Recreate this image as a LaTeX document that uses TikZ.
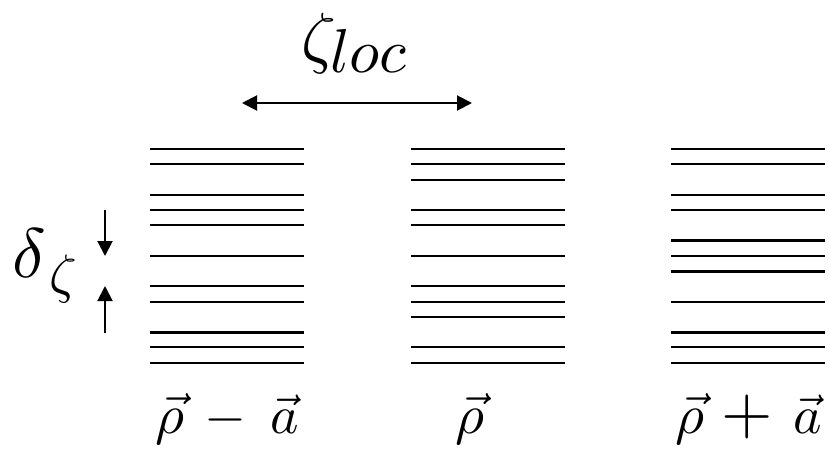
\documentclass[tikz,border=0pt]{standalone}
\usetikzlibrary{arrows.meta}
\tikzset{
  level/.style={line width=2pt},
  thicklevel/.style={line width=3pt},
  dimarrow/.style={line width=2pt,-{Triangle[length=15pt,width=15pt]}},
  lbl/.style={inner sep=0pt,anchor=base},
}
\begin{document}
\begin{tikzpicture}[x=1pt,y=-1pt]
\useasboundingbox (0,0) rectangle (829,452);
% level grid: y = 149 + k*15.25
\foreach \k in {0,1,3,4,5,7,9,10,13,14} \draw[level] (150,149+\k*15.25) -- (304,149+\k*15.25);
\foreach \k in {12} \draw[thicklevel] (150,149+\k*15.25) -- (304,149+\k*15.25);
\foreach \k in {0,1,2,4,5,7,9,10,11,13,14} \draw[level] (411,149+\k*15.25) -- (565,149+\k*15.25);
\foreach \k in {0,1,3,4,7,10,13,14} \draw[level] (671,149+\k*15.25) -- (825,149+\k*15.25);
\foreach \k in {6,8,12} \draw[thicklevel] (671,149+\k*15.25) -- (825,149+\k*15.25);
% zeta_loc
\node[lbl,anchor=base west,scale=6.8] (zeta) at (300,60) {$\zeta$};
\node[lbl,anchor=base west,scale=6.2] (loc) at (329,73) {$loc$};
\coordinate (hl) at (242,103);
\coordinate (hr) at (472,103);
\draw[line width=2pt,{Triangle[length=15pt,width=15pt]}-{Triangle[length=15pt,width=15pt]}] (hl) -- (hr);
% delta_zeta
\node[lbl,anchor=base west,scale=7] (delta) at (11,277) {$\delta$};
\node[lbl,anchor=base west,scale=5.4] (dz) at (48,292) {$\zeta$};
\coordinate (dt) at (105,210);
\coordinate (dtt) at (105,256);
\coordinate (db) at (105,333);
\coordinate (dbt) at (105,286);
\draw[dimarrow] (dt) -- (dtt);
\draw[dimarrow] (db) -- (dbt);
% bottom labels
\node[lbl,scale=5.6] (r1) at (170,433) {$\vec\rho$};
\node[lbl,scale=5.4] (m1) at (225,433) {$-$};
\node[lbl,scale=5.4] (a1) at (285,433) {$\vec a$};
\node[lbl,scale=5.6] (r2) at (470,433) {$\vec\rho$};
\node[lbl,scale=5.6] (r3) at (690,433) {$\vec\rho$};
\node[lbl,scale=6.6] (p3) at (747,433) {$+$};
\node[lbl,scale=5.4] (a3) at (808,433) {$\vec a$};
\end{tikzpicture}
\end{document}
